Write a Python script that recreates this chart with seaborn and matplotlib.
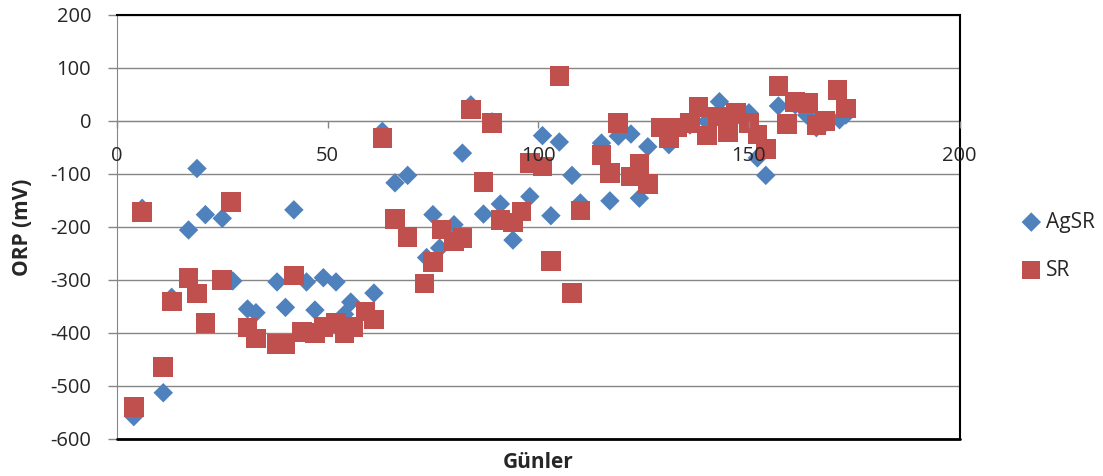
import numpy as np
import pandas as pd
import matplotlib
matplotlib.use("Agg")
import matplotlib.pyplot as plt
import seaborn as sns

# AgSR series (days, ORP mV)
agsr_days = [4, 6, 11, 13, 17, 19, 21, 25, 27.5, 31, 33, 38, 40, 42, 45, 47, 49, 52,
             54, 55.5, 61, 63, 66, 69, 73.5, 75, 76.6, 80, 82, 84, 87, 89, 91, 94, 98,
             101, 103, 105, 108, 110, 115, 117, 119, 122, 124, 126, 131, 136, 140, 143,
             147, 150, 152, 154, 157, 161, 163.7, 166, 168, 171.5, 173]
agsr_orp = [-558, -165, -513, -333, -206, -90, -177, -184, -302, -355, -362, -304, -352,
            -168, -304, -357, -296, -304, -365, -342, -325, -20, -117, -103, -258, -177,
            -240, -196, -61, 30, -176, -2, -157, -225, -143, -28, -179, -40, -103, -155,
            -42, -151, -29, -25, -146, -49, -45, -8, -1, 36, 8, 15, -70, -103, 28, 30,
            11, -13, -5, 2, 11]

# SR series
sr_days = [4, 6, 11, 13, 17, 19, 21, 25, 27, 31, 33, 38, 40, 42, 44, 47, 49, 52, 54, 56,
           59, 61, 63, 66, 69, 73, 75, 77, 80, 82, 84, 87, 89, 91, 94, 96, 98, 101, 103,
           105, 108, 110, 115, 117, 119, 122, 124, 126, 129, 131, 133, 136, 138, 140,
           142.6, 145, 147, 150, 152, 154, 157, 159, 161, 164, 166, 168, 171, 173]
sr_orp = [-540, -172, -464, -341, -296, -326, -381, -300, -153, -390, -411, -421, -421,
          -292, -398, -400, -389, -381, -400, -389, -360, -375, -32, -185, -219, -307,
          -266, -205, -228, -221, 21, -116, -4, -187, -192, -171, -80, -86, -264, 85,
          -325, -169, -64, -98, -4, -105, -81, -119, -13, -33, -13, -4, 26, -28, 8, -21,
          15, -4, -26, -53, 66, -6, 36, 34, -8, 0, 58, 23]

x_ticks = [0, 50, 100, 150, 200]
y_ticks = [-600, -500, -400, -300, -200, -100, 0, 100, 200]

agsr = pd.DataFrame({"Günler": agsr_days, "ORP": agsr_orp})
sr = pd.DataFrame({"Günler": sr_days, "ORP": sr_orp})

sns.set_style("white")
plt.rcParams["font.family"] = ["Open Sans", "DejaVu Sans"]
plt.rcParams["axes.unicode_minus"] = False

fig = plt.figure(figsize=(11.03, 4.76), dpi=100)
ax = fig.add_axes([0.106, 0.078, 0.764, 0.891])

sns.scatterplot(data=agsr, x="Günler", y="ORP", marker="D", s=98, color="#4F81BD",
                edgecolor="none", label="AgSR", ax=ax, zorder=3)
sns.scatterplot(data=sr, x="Günler", y="ORP", marker="s", s=200, color="#C0504D",
                edgecolor="none", label="SR", ax=ax, zorder=4)

ax.set_xlim(0, 200)
ax.set_ylim(-600, 200)
ax.set_xticks(x_ticks)
ax.set_yticks(y_ticks)
ax.yaxis.grid(True, color="#868686", lw=1)
ax.set_axisbelow(True)
# x tick labels sit on top of the markers, like in Excel
ax.xaxis.set_zorder(6)

# x axis crosses at zero, box border in black
ax.spines["bottom"].set_position(("data", 0))
ax.spines["bottom"].set_color("#868686")
ax.spines["bottom"].set_zorder(1)
ax.spines["left"].set_color("#868686")
for side in ["top", "right"]:
    ax.spines[side].set_color("black")
    ax.spines[side].set_linewidth(1.5)
ax.axhline(-600, color="black", lw=2, clip_on=False, zorder=5)

ax.tick_params(axis="x", direction="out", length=5, width=1, color="#868686",
               pad=13, labelsize=14.5, bottom=True)
ax.tick_params(axis="y", direction="out", length=6.5, width=1, color="#868686",
               pad=12, labelsize=14.5, left=True)

ax.set_xlabel("Günler", fontsize=15, fontweight="bold")
ax.set_ylabel("ORP (mV)", fontsize=15, fontweight="bold")
ax.xaxis.set_label_coords(0.5, -0.03)
ax.yaxis.set_label_coords(-0.1, 0.5)

leg = ax.legend(loc="center left", bbox_to_anchor=(0.918, 0.483),
                bbox_transform=fig.transFigure, frameon=False, fontsize=15,
                labelspacing=1.3, handletextpad=0.2, handlelength=1.0, borderaxespad=0)
leg.legend_handles[0].set_sizes([98])
leg.legend_handles[1].set_sizes([165])

fig.savefig("out.png", dpi=100)
